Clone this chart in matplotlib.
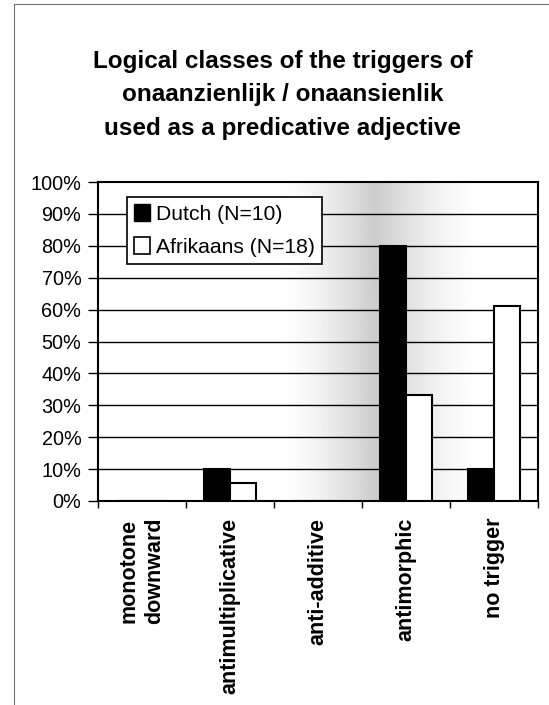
import numpy as np
import matplotlib
matplotlib.use("Agg")
import matplotlib.pyplot as plt
from matplotlib.patches import Patch
from matplotlib.lines import Line2D

plt.rcParams['font.family'] = ['Liberation Sans', 'DejaVu Sans']

categories = ["monotone\ndownward", "antimultiplicative", "anti-additive",
              "antimorphic", "no trigger"]
dutch = [0, 10, 0, 80, 10]
afrikaans = [0, 5.6, 0, 33.3, 61.1]
series_labels = ["Dutch (N=10)", "Afrikaans (N=18)"]
yticks = [0, 10, 20, 30, 40, 50, 60, 70, 80, 90, 100]
title = "Logical classes of the triggers of\nonaanzienlijk / onaansienlik\nused as a predicative adjective"

fig = plt.figure(figsize=(5.49, 7.05), dpi=100)
ax = fig.add_axes([0.1785, 0.2894, 0.8015, 0.4524])

n = len(categories)
x = np.arange(n)
w = 0.3

# soft horizontal shading behind the bars, darkest just left of the tallest bar
gx = np.linspace(-0.5, n - 0.5, 600)
peak = 2.65
shade = np.where(gx < peak,
                 np.clip(1 - (peak - gx) / 1.1, 0, 1) ** 1.5,
                 np.clip(1 - (gx - peak) / 1.2, 0, 1) ** 1.5)
gray = 1 - 0.2 * shade
img = np.tile(gray, (2, 1))
ax.imshow(img, extent=(-0.5, n - 0.5, 0, 100), aspect='auto', cmap='gray',
          vmin=0, vmax=1, zorder=0, interpolation='bilinear')

ax.set_xlim(-0.5, n - 0.5)
ax.set_ylim(0, 100)

for y in yticks[1:-1]:
    ax.axhline(y, color='black', lw=1.0, zorder=1)

ax.bar(x - w / 2, dutch, width=w, color='black', edgecolor='black',
       linewidth=1.5, zorder=3)
ax.bar(x + w / 2, afrikaans, width=w, color='white', edgecolor='black',
       linewidth=1.5, zorder=3)

ax.set_yticks(yticks)
ax.set_yticklabels([f"{v}%" for v in yticks], fontsize=14.3)
ax.tick_params(axis='y', direction='out', length=7, width=1, pad=5)

ax.set_xticks(x)
ax.set_xticklabels(categories, rotation=90, fontsize=15.5, fontweight='bold',
                   va='top', ha='center', multialignment='center',
                   linespacing=1.3)
ax.tick_params(axis='x', which='major', length=0, pad=12)
ax.set_xticks(np.arange(-0.5, n, 1.0), minor=True)
ax.tick_params(axis='x', which='minor', direction='out', length=5, width=1)

for s in ax.spines.values():
    s.set_color('black')
    s.set_linewidth(1.5)

handles = [Patch(facecolor='black', edgecolor='black'),
           Patch(facecolor='white', edgecolor='black', linewidth=1.2)]
leg = ax.legend(handles, series_labels, loc='upper left',
                bbox_to_anchor=(0.066, 0.953), fontsize=15.2, frameon=True,
                fancybox=False, framealpha=1, edgecolor='black',
                handlelength=0.75, handleheight=0.85, handletextpad=0.25,
                borderpad=0.35, labelspacing=0.62, borderaxespad=0)
leg.get_frame().set_linewidth(1.2)
leg.set_zorder(5)

fig.text(0.515, 0.929, title, ha='center', va='top', fontsize=17.5,
         fontweight='bold', linespacing=1.58)

# thin frame lines along the page edge
fig.add_artist(Line2D([14 / 549, 14 / 549], [0.0, 1 - 4 / 705],
                      color='0.45', lw=0.8))
fig.add_artist(Line2D([14 / 549, 1.0], [1 - 4 / 705, 1 - 4 / 705],
                      color='0.45', lw=0.8))

fig.savefig("out.png", dpi=100)
